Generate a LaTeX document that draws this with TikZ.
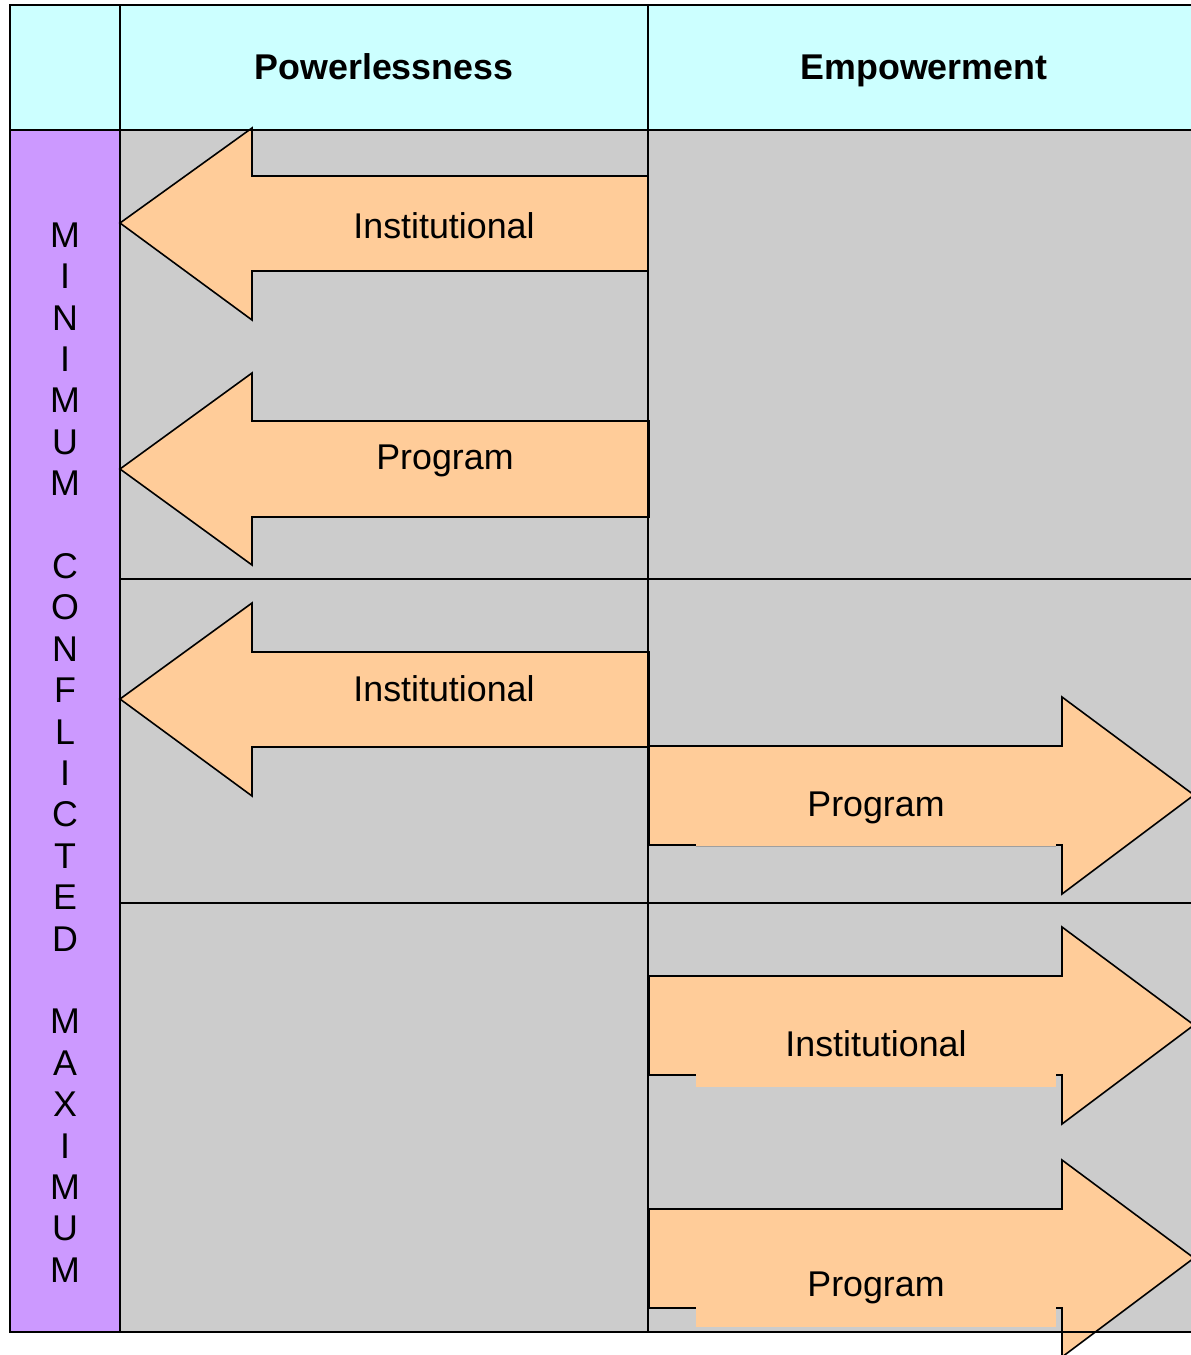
\documentclass[tikz,border=0pt]{standalone}
\usepackage{fontspec}
\setmainfont{Liberation Sans}
\definecolor{hdr}{HTML}{CCFFFF}
\definecolor{side}{HTML}{CC99FF}
\definecolor{cell}{HTML}{CCCCCC}
\definecolor{peach}{HTML}{FFCC99}
\begin{document}
\begin{tikzpicture}[x=1pt,y=-1pt,
  gridline/.style={line width=2.4pt},
  arr/.style={fill=peach,draw=black,line width=1.6pt,line join=miter},
  cover/.style={fill=peach},
  lbl/.style={font=\fontsize{35.8}{40}\selectfont,inner sep=0pt,anchor=base},
  hd/.style={font=\fontsize{35.8}{40}\selectfont\bfseries,inner sep=0pt,anchor=base},
  vl/.style={font=\fontsize{35.8}{40}\selectfont,inner sep=0pt}]
\useasboundingbox (0,0) rectangle (1191,1355);
\clip (0,0) rectangle (1191,1355);
% backgrounds
\fill[hdr] (10,5) rectangle (1200,130);
\fill[side] (10,130) rectangle (120,1332);
\fill[cell] (120,130) rectangle (1200,1332);
% left arrows
\draw[arr] (648,176) -- (252,176) -- (252,128) -- (120,223) -- (252,320) -- (252,271) -- (648,271) -- cycle;
\draw[arr] (649,421) -- (252,421) -- (252,373) -- (120,469) -- (252,565) -- (252,517) -- (649,517) -- cycle;
\draw[arr] (649,652) -- (252,652) -- (252,603) -- (120,699) -- (252,796) -- (252,747) -- (649,747) -- cycle;
% right arrows
\draw[arr] (649,746) -- (1062,746) -- (1062,697) -- (1194,795) -- (1062,894) -- (1062,845) -- (649,845) -- cycle;
\draw[arr] (649,976) -- (1062,976) -- (1062,927) -- (1194,1025) -- (1062,1124) -- (1062,1075) -- (649,1075) -- cycle;
\draw[arr] (649,1209) -- (1062,1209) -- (1062,1160) -- (1194,1258) -- (1062,1357) -- (1062,1308) -- (649,1308) -- cycle;
% label boxes covering the shaft edges
\fill[cover] (696,830) rectangle (1056,846.6);
\draw[gray!75,line width=0.6pt] (696,846.3) -- (1056,846.3);
\fill[cover] (696,1060) rectangle (1056,1087);
\fill[cover] (696,1290) rectangle (1056,1327);
% grid
\draw[gridline] (1200,5) -- (10,5) -- (10,1332) -- (1200,1332);
\draw[gridline] (10,130) -- (1200,130);
\draw[gridline] (120,5) -- (120,1332);
\draw[gridline] (648,5) -- (648,1332);
\draw[gridline] (120,579) -- (1200,579);
\draw[gridline] (120,903) -- (1200,903);
% headers
\node[hd] (hpow) at (384,79) {Powerlessness};
\node[hd] (hemp) at (924,79) {Empowerment};
% arrow labels
\node[lbl] (l1) at (444,238.3) {Institutional};
\node[lbl] (l2) at (445,469.3) {Program};
\node[lbl] (l3) at (444,701.5) {Institutional};
\node[lbl] (r1) at (876,816) {Program};
\node[lbl] (r2) at (876,1056.5) {Institutional};
\node[lbl] (r3) at (876,1296) {Program};
% vertical side text
\foreach \ch [count=\i from 0] in {M,I,N,I,M,U,M,{},C,O,N,F,L,I,C,T,E,D,{},M,A,X,I,M,U,M}
  \node[vl] (v\i) at (65,{235+41.4*\i}) {\ch};
\end{tikzpicture}
\end{document}
